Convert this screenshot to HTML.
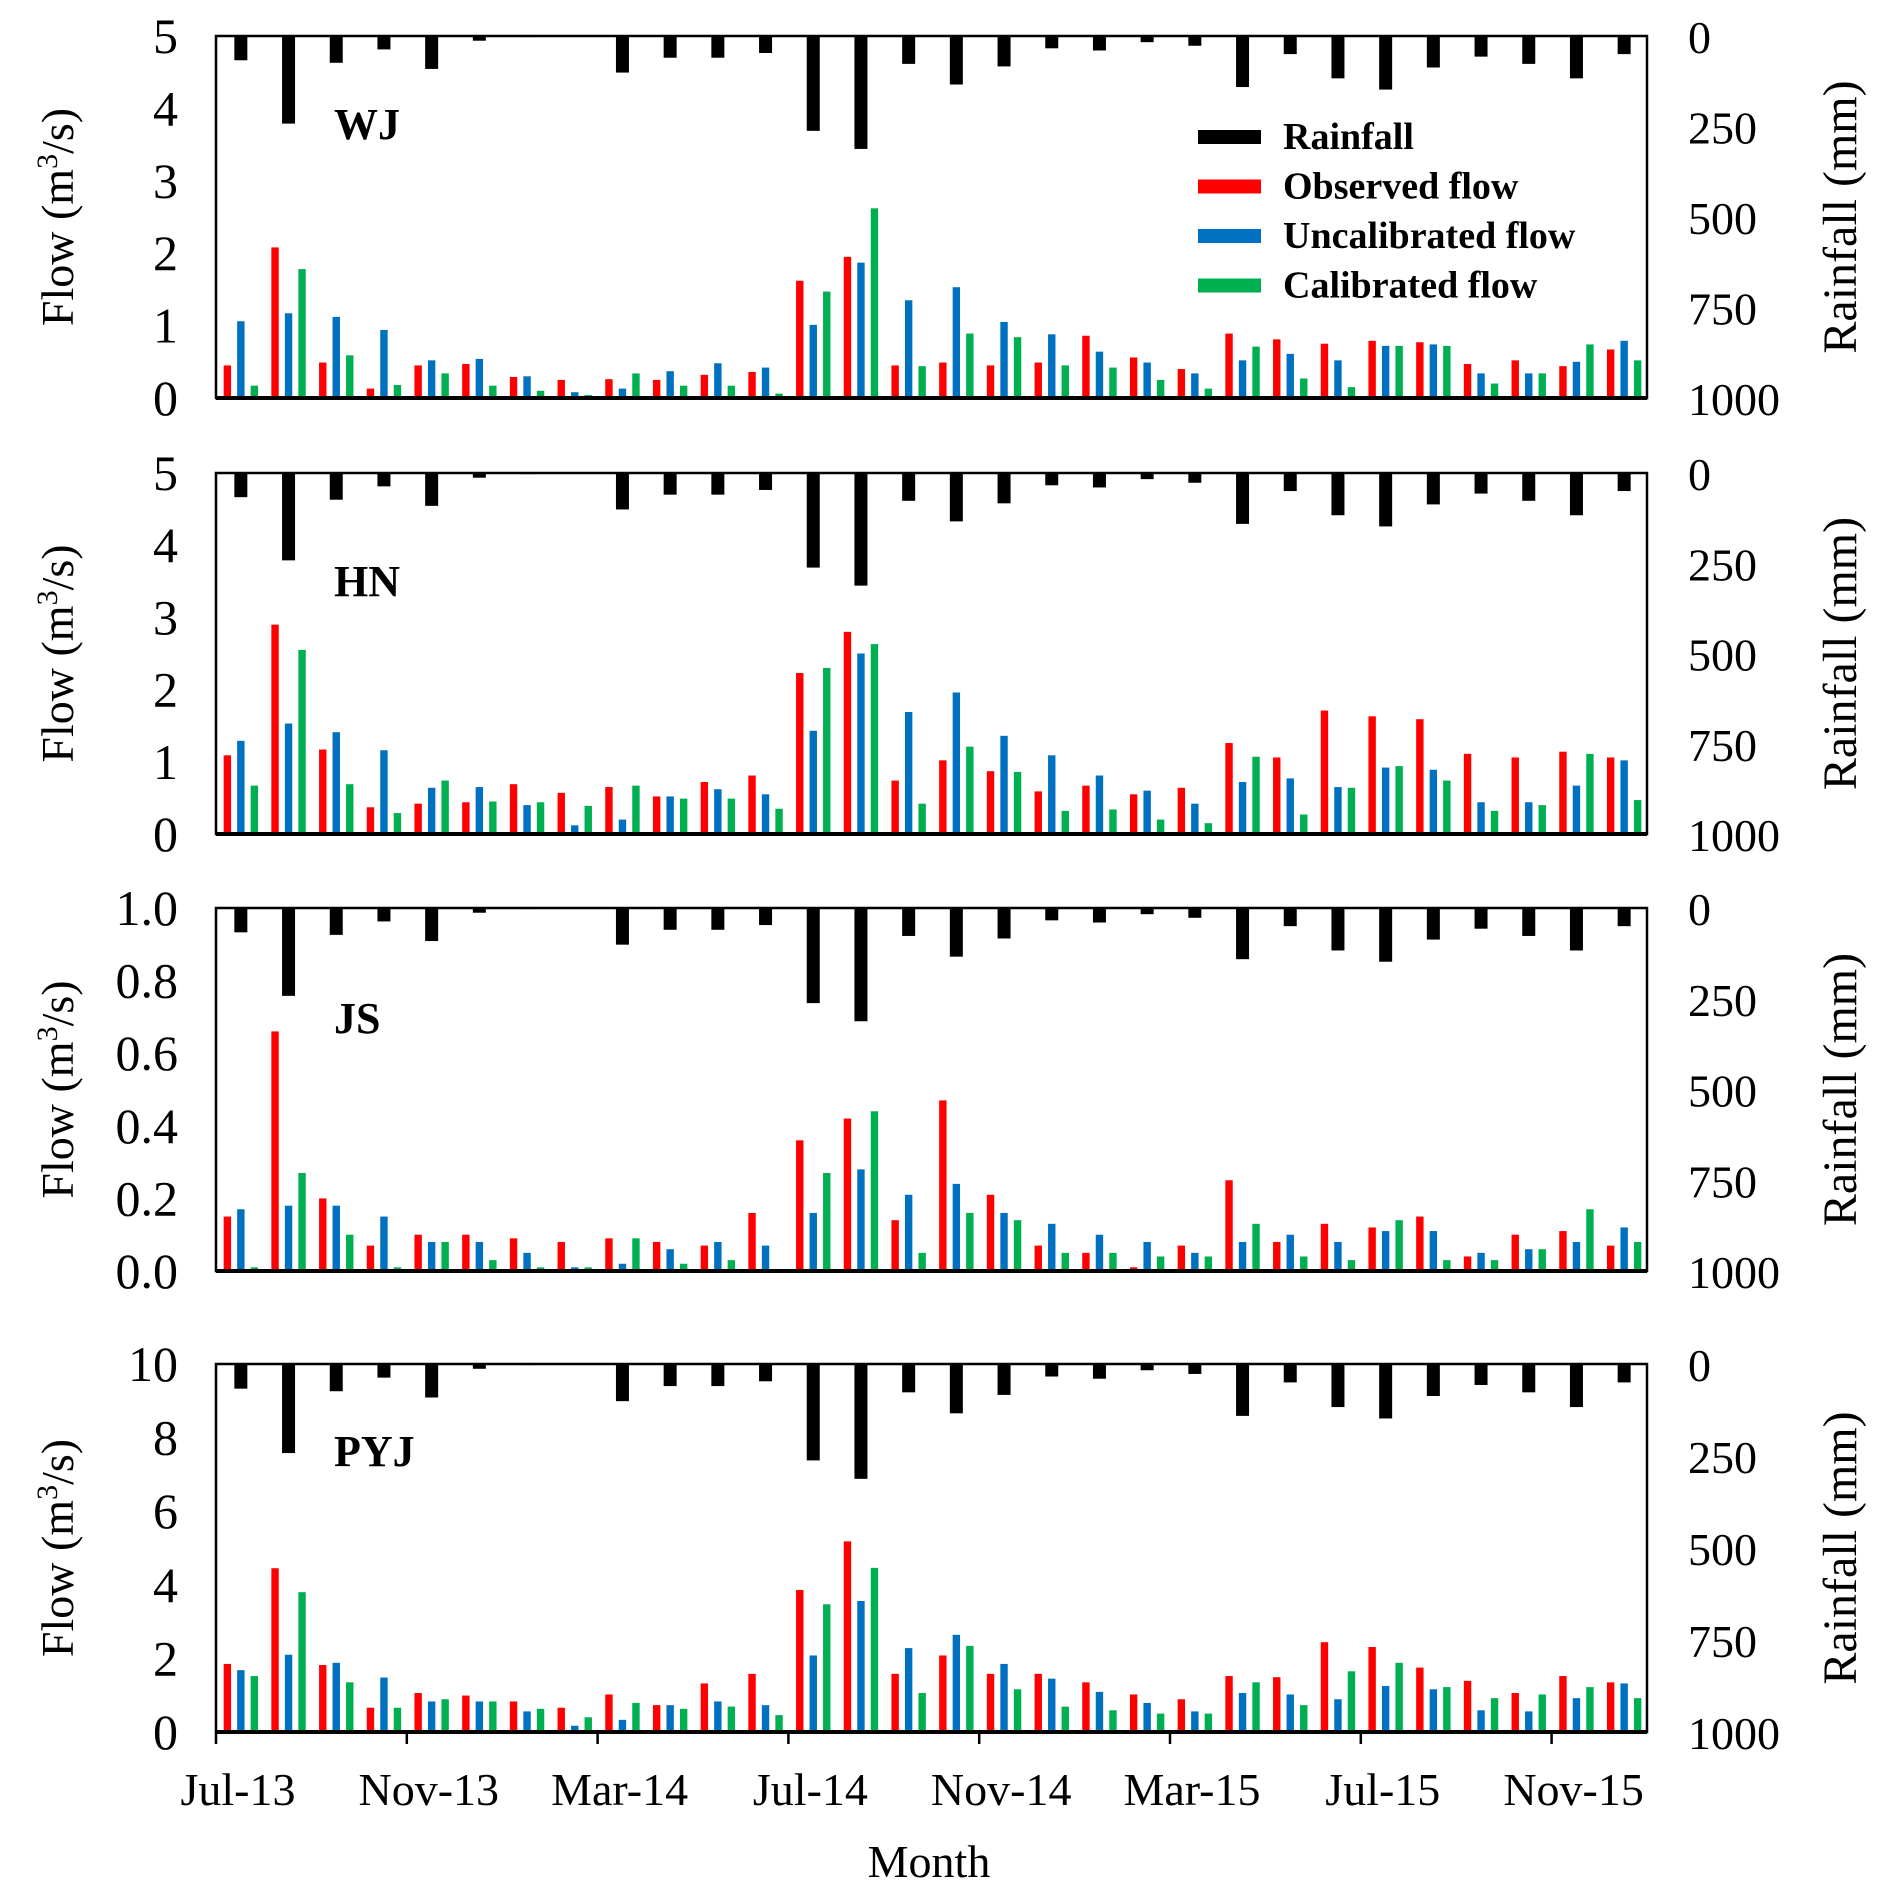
<!DOCTYPE html>
<html><head><meta charset="utf-8">
<style>
html,body{margin:0;padding:0;background:#fff;}
svg{display:block;}
text{font-family:"Liberation Serif",serif;fill:#000;}
</style></head>
<body>
<svg id="chart" width="1892" height="1897" viewBox="0 0 1892 1897" xmlns="http://www.w3.org/2000/svg"></svg>
<script>
const months = ["Jul-13","Aug-13","Sep-13","Oct-13","Nov-13","Dec-13","Jan-14","Feb-14","Mar-14","Apr-14","May-14","Jun-14","Jul-14","Aug-14","Sep-14","Oct-14","Nov-14","Dec-14","Jan-15","Feb-15","Mar-15","Apr-15","May-15","Jun-15","Jul-15","Aug-15","Sep-15","Oct-15","Nov-15","Dec-15"];
const xTickLabels = ["Jul-13","Nov-13","Mar-14","Jul-14","Nov-14","Mar-15","Jul-15","Nov-15"];
const rainfall = [67,242,74,37,91,13,3,0,101,60,60,47,262,312,77,134,84,34,40,17,27,141,50,117,148,87,57,77,117,50];
const rainTicks = [0,250,500,750,1000];

const wjObserved = [0.45,2.08,0.49,0.13,0.45,0.47,0.29,0.25,0.26,0.25,0.32,0.36,1.62,1.95,0.45,0.49,0.45,0.49,0.86,0.56,0.40,0.89,0.81,0.75,0.79,0.77,0.47,0.52,0.44,0.67];
const wjUncal   = [1.06,1.17,1.12,0.94,0.52,0.54,0.30,0.08,0.13,0.37,0.48,0.42,1.01,1.87,1.35,1.53,1.05,0.88,0.64,0.49,0.34,0.52,0.61,0.52,0.72,0.74,0.34,0.34,0.50,0.79];
const wjCal     = [0.17,1.78,0.59,0.18,0.34,0.17,0.10,0.04,0.34,0.17,0.17,0.06,1.47,2.62,0.44,0.89,0.84,0.45,0.42,0.25,0.13,0.71,0.27,0.15,0.72,0.72,0.20,0.34,0.74,0.52];

const hnObserved = [1.09,2.90,1.17,0.37,0.42,0.44,0.69,0.57,0.65,0.52,0.72,0.81,2.23,2.80,0.74,1.02,0.87,0.59,0.67,0.55,0.64,1.26,1.06,1.71,1.63,1.59,1.11,1.06,1.14,1.06];
const hnUncal   = [1.29,1.53,1.41,1.16,0.64,0.65,0.40,0.12,0.20,0.52,0.62,0.55,1.43,2.50,1.69,1.96,1.36,1.09,0.81,0.60,0.42,0.72,0.77,0.65,0.92,0.89,0.44,0.44,0.67,1.02];
const hnCal     = [0.67,2.55,0.69,0.29,0.74,0.45,0.44,0.39,0.67,0.49,0.49,0.35,2.30,2.63,0.42,1.21,0.86,0.32,0.34,0.20,0.15,1.07,0.27,0.64,0.94,0.74,0.32,0.40,1.11,0.47];

const jsObserved = [0.15,0.66,0.20,0.07,0.10,0.10,0.09,0.08,0.09,0.08,0.07,0.16,0.36,0.42,0.14,0.47,0.21,0.07,0.05,0.01,0.07,0.25,0.08,0.13,0.12,0.15,0.04,0.10,0.11,0.07];
const jsUncal   = [0.17,0.18,0.18,0.15,0.08,0.08,0.05,0.01,0.02,0.06,0.08,0.07,0.16,0.28,0.21,0.24,0.16,0.13,0.10,0.08,0.05,0.08,0.10,0.08,0.11,0.11,0.05,0.06,0.08,0.12];
const jsCal     = [0.01,0.27,0.10,0.01,0.08,0.03,0.01,0.01,0.09,0.02,0.03,0.00,0.27,0.44,0.05,0.16,0.14,0.05,0.05,0.04,0.04,0.13,0.04,0.03,0.14,0.03,0.03,0.06,0.17,0.08];

const pyjObserved = [1.85,4.45,1.82,0.66,1.06,0.99,0.83,0.66,1.02,0.73,1.32,1.58,3.86,5.18,1.58,2.08,1.58,1.58,1.35,1.02,0.89,1.52,1.49,2.44,2.31,1.75,1.39,1.06,1.52,1.35];
const pyjUncal   = [1.68,2.10,1.88,1.48,0.83,0.83,0.56,0.17,0.33,0.73,0.83,0.73,2.08,3.56,2.28,2.64,1.85,1.45,1.09,0.79,0.56,1.06,1.02,0.89,1.25,1.16,0.59,0.56,0.92,1.32];
const pyjCal     = [1.52,3.80,1.35,0.66,0.89,0.83,0.63,0.40,0.79,0.63,0.69,0.46,3.47,4.46,1.06,2.34,1.16,0.69,0.59,0.50,0.50,1.35,0.73,1.65,1.88,1.22,0.92,1.02,1.22,0.92];

const wjTicks = ["0","1","2","3","4","5"];
const hnTicks = ["0","1","2","3","4","5"];
const jsTicks = ["0.0","0.2","0.4","0.6","0.8","1.0"];
const pyjTicks = ["0","2","4","6","8","10"];

const svg = document.getElementById('chart');
const NS = 'http://www.w3.org/2000/svg';
function mk(tag, attrs, parent){const e=document.createElementNS(NS,tag);for(const k in attrs)e.setAttribute(k,attrs[k]);(parent||svg).appendChild(e);return e;}

const L = 216, R = 1647;
const W = (R - L) / months.length;
function xMonth(i){return L + i*W;}
const COLORS = {obs:'#ff0000', unc:'#0070c0', cal:'#00b050'};

const panels = [
  {name:'wj', label:'WJ', top:36, bot:398, max:5, ticks:wjTicks, obs:wjObserved, unc:wjUncal, cal:wjCal, lx:334, ly:139},
  {name:'hn', label:'HN', top:473, bot:834, max:5, ticks:hnTicks, obs:hnObserved, unc:hnUncal, cal:hnCal, lx:334, ly:596},
  {name:'js', label:'JS', top:908, bot:1271, max:1, ticks:jsTicks, obs:jsObserved, unc:jsUncal, cal:jsCal, lx:334, ly:1033},
  {name:'pyj', label:'PYJ', top:1364, bot:1732, max:10, ticks:pyjTicks, obs:pyjObserved, unc:pyjUncal, cal:pyjCal, lx:334, ly:1466}
];

panels.forEach((p, pi) => {
  const g = mk('g', {});
  
  
  const H = p.bot - p.top;
  const yFlow = v => p.bot - v / p.max * H;
  const yRain = v => p.top + v / 1000 * H;

  rainfall.forEach((v, i) => {
    const cx = xMonth(i) + W/2 + 1;
    const r = mk('rect', {x:cx-6.5, y:p.top, width:13, height:yRain(v)-p.top, fill:'#000'}, g);
    
    
  });
  const series = [['observed', p.obs, COLORS.obs, -13.5], ['uncalibrated', p.unc, COLORS.unc, 0], ['calibrated', p.cal, COLORS.cal, 13.5]];
  series.forEach(([sn, arr, col, off]) => {
    arr.forEach((v, i) => {
      const cx = xMonth(i) + W/2 + 1 + off;
      const y = yFlow(v);
      const r = mk('rect', {x:cx-3.7, y:y, width:7.4, height:p.bot-y, fill:col}, g);
      
      
    });
  });
  const fr = mk('rect', {x:L, y:p.top, width:R-L, height:H, fill:'none', stroke:'#000', 'stroke-width':2.5}, g);
  
  
  const ax = mk('line', {x1:L, x2:R, y1:p.bot, y2:p.bot, stroke:'#000', 'stroke-width':4}, g);
  
  

  p.ticks.forEach((t, k) => {
    const y = p.bot - k / (p.ticks.length - 1) * H;
    const tx = mk('text', {x:178, y:y+17, 'font-size':50, 'text-anchor':'end'}, g);
    tx.textContent = t;
    
    
  });
  rainTicks.forEach(t => {
    const y = yRain(t);
    const tx = mk('text', {x:1688, y:y+17, 'font-size':46, 'text-anchor':'start'}, g);
    tx.textContent = t;
    
    
  });
  const lb = mk('text', {x:p.lx, y:p.ly, 'font-size':44, 'font-weight':'bold'}, g);
  lb.textContent = p.label;
  
  

  const cy = (p.top + p.bot) / 2;
  const yt = mk('text', {x:0, y:0, 'font-size':46, 'text-anchor':'middle', transform:'translate(73,'+cy+') rotate(-90)'}, g);
  yt.innerHTML = 'Flow (m<tspan dy="-16" font-size="30">3</tspan><tspan dy="16">/s)</tspan>';
  
  
  const rt = mk('text', {x:0, y:0, 'font-size':48, 'text-anchor':'middle', transform:'translate(1856,'+cy+') rotate(-90)'}, g);
  rt.textContent = 'Rainfall (mm)';
  
  
});

const bp = panels[3];
xTickLabels.forEach((t, k) => {
  const i = months.indexOf(t);
  const x = xMonth(i);
  const tk = mk('line', {x1:x, x2:x, y1:bp.bot, y2:bp.bot+12, stroke:'#000', 'stroke-width':2.5});
  
  
  const tx = mk('text', {x:x+22, y:1805, 'font-size':46, 'text-anchor':'middle'});
  tx.textContent = t;
  
  
});
const xt = mk('text', {x:929, y:1877, 'font-size':46, 'text-anchor':'middle'});
xt.textContent = 'Month';



const legendItems = [['Rainfall','#000'],['Observed flow',COLORS.obs],['Uncalibrated flow',COLORS.unc],['Calibrated flow',COLORS.cal]];
const lg = mk('g', {});


legendItems.forEach(([name, col], k) => {
  const y = 137 + k * 49.5;
  const sw = mk('rect', {x:1198, y:y-7, width:63, height:14, fill:col}, lg);
  
  
  const tx = mk('text', {x:1283, y:y+12, 'font-size':38, 'font-weight':'bold'}, lg);
  tx.textContent = name;
  
  
});
</script>
</body></html>
